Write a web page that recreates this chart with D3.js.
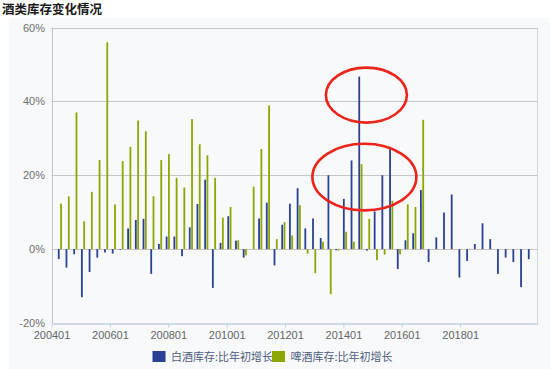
<!DOCTYPE html>
<html>
<head>
<meta charset="utf-8">
<script src="https://d3js.org/d3.v7.min.js"></script>
<style>
  body { margin: 0; background: #fff; }
  svg { display: block; }
  text { font-family: "Liberation Sans", Arial, "Noto Sans CJK SC", sans-serif; }
  .cjk { font-family: "Noto Sans CJK SC", sans-serif; }
</style>
</head>
<body>
<div id="chart"></div>
<script>
// values, % growth since start of year
const baijiu = [-2.7, -5.0, -1.4, -13.0, -6.2, -2.3, -0.9, -1.2, -0.2, 5.6,
  7.9, 8.2, -6.7, 1.4, 3.4, 3.4, -1.9, 5.9, 12.2, 18.8,
  -10.5, 1.7, 8.9, 2.3, -2.3, 0, 8.3, 12.6, -4.4, 6.6,
  12.3, 16.5, 5.6, 8.3, 3.0, 20.0, -0.3, 13.6, 24.0, 46.7,
  -0.4, 10.2, 20.0, 27.7, -5.4, 2.4, 4.3, 16.0, -3.5, 3.2,
  9.9, 14.8, -7.7, -3.2, 1.4, 7.0, 2.7, -6.7, -2.3, -3.5,
  -10.3, -2.7];
const pijiu = [12.3, 14.3, 37.0, 7.5, 15.5, 24.1, 56.0, 12.1, 23.8, 27.7,
  34.8, 31.9, 14.3, 24.1, 25.7, 19.3, 16.7, 35.2, 28.4, 25.4,
  19.3, 8.5, 11.4, 2.4, -1.7, 16.9, 27.1, 38.9, 2.7, 7.3,
  3.7, 11.9, -1.2, -6.5, 2.0, -12.2, -0.4, 4.7, 2.0, 23.0,
  8.2, -3.0, -1.5, 13.1, -1.4, 12.1, 11.4, 35.0];
const tickLabels = ["200401", "200601", "200801", "201001", "201201", "201401", "201601", "201801"];
const yTicks = [-20, 0, 20, 40, 60];
const seriesNames = ["白酒库存:比年初增长", "啤酒库存:比年初增长"];
const colors = ["#2b4196", "#8ea700"];

const width = 550, height = 369;
const plotL = 51.5, plotR = 538, plotT = 27.5, plotB = 323;

const svg = d3.select("#chart").append("svg")
  .attr("width", width)
  .attr("height", height);

// panel background
svg.append("rect")
  .attr("x", 9).attr("y", 18)
  .attr("width", width - 9).attr("height", height - 18)
  .attr("fill", "#f7f9fb");

svg.append("text")
  .attr("class", "cjk")
  .attr("x", 2).attr("y", 14)
  .attr("font-size", 12.5)
  .attr("font-weight", "bold")
  .attr("fill", "#1a1a1a")
  .text("酒类库存变化情况");

const parse = d3.timeParse("%Y%m");
const x = d3.scaleTime()
  .domain([new Date(2004, 0, 1), new Date(2020, 8, 1)])
  .range([plotL, plotR]);

const y = d3.scaleLinear().domain([-20, 60]).range([plotB, plotT]);

// bars sit on their own point scale (one slot per reading)
const idx = d3.range(baijiu.length);
const xb = d3.scalePoint().domain(idx).range([59.9, 529.9]);

// grid
svg.append("g")
  .selectAll("line")
  .data(yTicks.filter(d => d > -20))
  .join("line")
  .attr("x1", plotL).attr("x2", plotR)
  .attr("y1", d => Math.round(y(d)) + 0.5)
  .attr("y2", d => Math.round(y(d)) + 0.5)
  .attr("stroke", "#c6c6c6");

// frame
svg.append("line")
  .attr("x1", Math.round(plotL) + 0.5).attr("x2", Math.round(plotL) + 0.5)
  .attr("y1", plotT).attr("y2", plotB)
  .attr("stroke", "#c6c6c6");
svg.append("line")
  .attr("x1", Math.round(plotR) - 0.5).attr("x2", Math.round(plotR) - 0.5)
  .attr("y1", plotT).attr("y2", plotB)
  .attr("stroke", "#d3d7dd");

// y labels
svg.append("g")
  .selectAll("text")
  .data(yTicks)
  .join("text")
  .attr("x", 45)
  .attr("y", d => y(d) + 4)
  .attr("text-anchor", "end")
  .attr("font-size", 11)
  .attr("fill", "#707070")
  .text(d => d + "%");

// x axis
const xAxis = svg.append("g")
  .attr("transform", `translate(0,${Math.round(plotB) + 0.5})`)
  .call(d3.axisBottom(x)
    .tickValues(tickLabels.map(parse))
    .tickFormat(d3.timeFormat("%Y%m"))
    .tickSize(4)
    .tickSizeOuter(0));
xAxis.select(".domain").attr("stroke", "#c5cfdc").attr("stroke-width", 1.5);
xAxis.selectAll(".tick line").attr("stroke", "#c5cfdc");
xAxis.selectAll(".tick text")
  .attr("font-size", 11)
  .attr("font-family", "'Liberation Sans', Arial, sans-serif")
  .attr("fill", "#666")
  .attr("dy", "0.8em");

// bars
const bw = 1.8;
svg.append("g")
  .selectAll("rect")
  .data(baijiu)
  .join("rect")
  .attr("x", (d, i) => xb(i) - 0.25 - bw)
  .attr("width", bw)
  .attr("y", d => y(Math.max(0, d)))
  .attr("height", d => Math.abs(y(d) - y(0)))
  .attr("fill", colors[0]);

svg.append("g")
  .selectAll("rect")
  .data(pijiu)
  .join("rect")
  .attr("x", (d, i) => xb(i) + 0.25)
  .attr("width", bw)
  .attr("y", d => y(Math.max(0, d)))
  .attr("height", d => Math.abs(y(d) - y(0)))
  .attr("fill", colors[1]);

// red ellipse annotations around the 2014 spike
const ax = xb(39);
svg.append("ellipse")
  .attr("cx", ax + 6).attr("cy", y(41.7))
  .attr("rx", 40.5).attr("ry", 27.5)
  .attr("fill", "none").attr("stroke", "#ec2419").attr("stroke-width", 2.6);
svg.append("ellipse")
  .attr("cx", ax + 4).attr("cy", y(19.5))
  .attr("rx", 52).attr("ry", 33.3)
  .attr("fill", "none").attr("stroke", "#ec2419").attr("stroke-width", 2.6);

// legend
const legend = svg.append("g");
const legX = [152.5, 272];
seriesNames.forEach((name, i) => {
  legend.append("text")
    .attr("class", "cjk")
    .attr("x", legX[i] + 18.5).attr("y", 360.5)
    .attr("font-size", 11)
    .attr("fill", "#4f5d7e")
    .text(name);
});
seriesNames.forEach((name, i) => {
  legend.append("rect")
    .attr("x", legX[i]).attr("y", 351)
    .attr("width", 13).attr("height", 11)
    .attr("fill", colors[i]);
});
</script>
</body>
</html>
